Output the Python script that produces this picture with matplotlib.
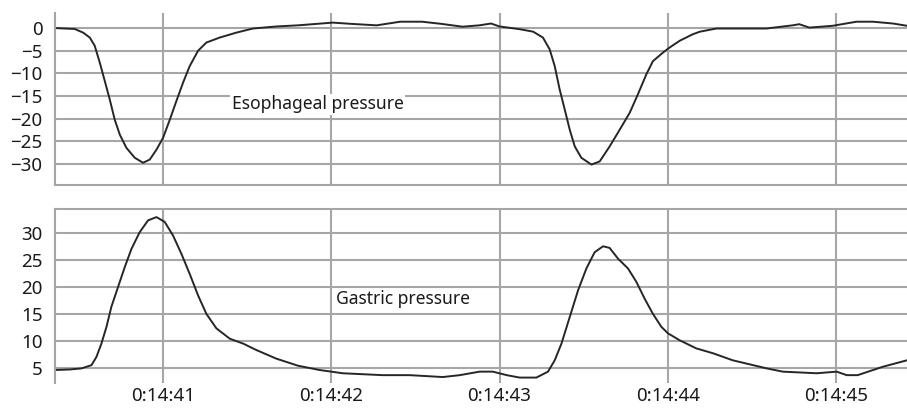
import matplotlib
matplotlib.use('Agg')
from matplotlib import pyplot as plt
from matplotlib.ticker import FuncFormatter

plt.rcParams['font.family'] = ['Noto Sans', 'DejaVu Sans']

# time in seconds after 0:14:00, pressures
eso_t = [40.359, 40.477, 40.527, 40.567, 40.596, 40.626, 40.656, 40.685, 40.715, 40.745,
         40.784, 40.834, 40.883, 40.923, 40.963, 41.002, 41.042, 41.081, 41.121, 41.160,
         41.210, 41.259, 41.338, 41.438, 41.536, 41.675, 41.803, 42.01, 42.13, 42.27,
         42.41, 42.54, 42.66, 42.78, 42.88, 42.95, 43.0, 43.12, 43.20, 43.258,
         43.298, 43.328, 43.357, 43.387, 43.417, 43.447, 43.486, 43.546, 43.595, 43.654,
         43.714, 43.773, 43.822, 43.872, 43.911, 43.971, 44.01, 44.07, 44.149, 44.19,
         44.288, 44.486, 44.585, 44.741, 44.78, 44.84, 44.979, 45.12, 45.218, 45.337,
         45.42]
eso_p = [0.0, -0.2, -1.0, -2.1, -3.9, -7.6, -11.7, -15.7, -20.2, -23.5,
         -26.4, -28.6, -29.7, -29.0, -26.8, -24.2, -20.2, -16.1, -12.0, -8.4,
         -5.0, -3.2, -2.1, -1.0, -0.1, 0.35, 0.6, 1.2, 0.9, 0.6,
         1.4, 1.4, 0.9, 0.3, 0.6, 1.0, 0.35, -0.25, -0.8, -2.1,
         -4.7, -8.4, -13.5, -17.9, -22.4, -26.1, -28.6, -30.1, -29.4, -26.1,
         -22.4, -18.7, -14.6, -10.2, -7.3, -5.4, -4.3, -2.8, -1.35, -0.8,
         -0.1, -0.1, -0.1, 0.6, 0.85, 0.1, 0.5, 1.4, 1.4, 1.0,
         0.5]

gas_t = [40.359, 40.448, 40.517, 40.577, 40.606, 40.636, 40.666, 40.695, 40.735, 40.774,
         40.814, 40.863, 40.913, 40.963, 41.012, 41.061, 41.111, 41.160, 41.210, 41.259,
         41.319, 41.398, 41.477, 41.556, 41.675, 41.803, 41.932, 42.069, 42.306, 42.467,
         42.663, 42.764, 42.882, 42.96, 43.043, 43.12, 43.219, 43.288, 43.328, 43.368,
         43.417, 43.466, 43.516, 43.565, 43.615, 43.654, 43.704, 43.763, 43.813, 43.862,
         43.911, 43.961, 44.0, 44.07, 44.169, 44.268, 44.385, 44.587, 44.682, 44.884,
         45.002, 45.062, 45.127, 45.276, 45.42]
gas_p = [4.6, 4.7, 4.9, 5.5, 7.0, 9.5, 12.6, 16.3, 20.0, 23.6,
         27.0, 30.1, 32.3, 32.9, 32.0, 29.5, 26.1, 22.4, 18.4, 15.0,
         12.3, 10.4, 9.5, 8.3, 6.7, 5.4, 4.6, 4.0, 3.65, 3.65,
         3.3, 3.65, 4.3, 4.3, 3.65, 3.2, 3.2, 4.3, 6.4, 9.5,
         14.4, 19.3, 23.4, 26.4, 27.5, 27.2, 25.2, 23.4, 20.9, 17.8,
         15.0, 12.6, 11.4, 10.1, 8.6, 7.7, 6.4, 4.9, 4.3, 4.0,
         4.3, 3.65, 3.65, 5.2, 6.4]

x_ticks = [41, 42, 43, 44, 45]
eso_yticks = [0, -5, -10, -15, -20, -25, -30]
gas_yticks = [5, 10, 15, 20, 25, 30]

grid_color = '#a6a6a6'
line_color = '#262626'
x_lim = (40.36, 45.42)

fig = plt.figure(figsize=(9.07, 4.09), dpi=100)
ax1 = fig.add_axes([0.0606, 0.5477, 0.9394, 0.4203])
ax2 = fig.add_axes([0.0606, 0.0636, 0.9394, 0.4254])


def style_axis(ax, yticks, ylim):
    ax.set_xlim(*x_lim)
    ax.set_ylim(*ylim)
    ax.set_xticks(x_ticks)
    ax.set_yticks(yticks)
    ax.grid(True, color=grid_color, linewidth=1.5)
    ax.set_axisbelow(True)
    ax.tick_params(length=0, labelsize=13.5, colors='#1a1a1a')
    ax.tick_params(axis='y', pad=9)
    for side in ax.spines:
        ax.spines[side].set_color(grid_color)
        ax.spines[side].set_linewidth(1.5)
    ax.yaxis.set_major_formatter(FuncFormatter(lambda v, _: f'{int(v)}'.replace('-', '\u2212')))


style_axis(ax1, eso_yticks, (-34.6, 3.3))
ax1.spines['top'].set_visible(False)
ax1.spines['right'].set_visible(False)
ax1.tick_params(labelbottom=False)
ax1.plot(eso_t, eso_p, color=line_color, linewidth=1.4)
ax1.text(41.41, -16.8, 'Esophageal pressure', fontsize=12.6, color='#1a1a1a',
         ha='left', va='center', bbox=dict(facecolor='white', edgecolor='none', pad=1))

style_axis(ax2, gas_yticks, (2.2, 34.4))
ax2.spines['bottom'].set_visible(False)
ax2.spines['right'].set_visible(False)
ax2.tick_params(axis='x', pad=3)
ax2.xaxis.set_major_formatter(FuncFormatter(lambda v, _: f'0:14:{int(round(v))}'))
ax2.plot(gas_t, gas_p, color=line_color, linewidth=1.4)
ax2.text(42.03, 17.7, 'Gastric pressure', fontsize=12.6, color='#1a1a1a',
         ha='left', va='center', bbox=dict(facecolor='white', edgecolor='none', pad=1))

fig.savefig('out.png', dpi=100)
